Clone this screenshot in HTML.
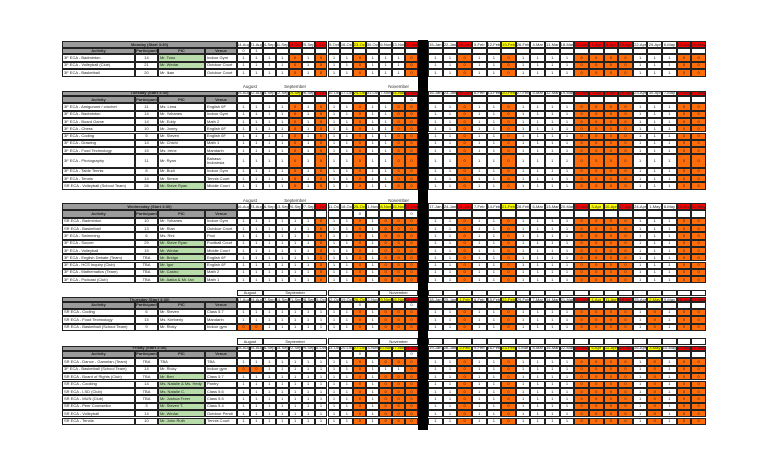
<!DOCTYPE html>
<html><head><meta charset="utf-8">
<style>
html,body{margin:0;padding:0;background:#fff;}
#root{position:relative;width:768px;height:466px;overflow:hidden;font-family:"Liberation Sans",sans-serif;}
.c{position:absolute;box-sizing:border-box;border:1px solid #222;font-size:4px;line-height:1;display:flex;align-items:center;justify-content:center;overflow:hidden;white-space:nowrap;color:#222;}
.l{justify-content:flex-start;padding-left:1px;}
.m{position:absolute;font-size:4.5px;color:#333;text-align:center;}
</style></head><body>
<div id="root"></div>
<script>
const b1Dates=[["14-Aug","21-Aug","4-Sep","11-Sep","18-Sep","25-Sep","2-Oct","9-Oct","16-Oct","23-Oct","30-Oct","6-Nov","13-Nov","20-Nov"],["15-Aug","22-Aug","5-Sep","12-Sep","19-Sep","26-Sep","3-Oct","10-Oct","17-Oct","24-Oct","31-Oct","7-Nov","14-Nov","21-Nov"],["16-Aug","23-Aug","6-Sep","13-Sep","20-Sep","27-Sep","4-Oct","11-Oct","18-Oct","25-Oct","1-Nov","8-Nov","15-Nov","22-Nov"],["17-Aug","24-Aug","7-Sep","14-Sep","21-Sep","28-Sep","5-Oct","12-Oct","19-Oct","26-Oct","2-Nov","9-Nov","16-Nov","23-Nov"],["18-Aug","25-Aug","8-Sep","15-Sep","22-Sep","29-Sep","6-Oct","13-Oct","20-Oct","27-Oct","3-Nov","10-Nov","17-Nov","24-Nov"]];
const b2Dates=[["15-Jan","22-Jan","29-Jan","5-Feb","12-Feb","19-Feb","26-Feb","4-Mar","11-Mar","18-Mar","25-Mar","1-Apr","8-Apr","15-Apr","22-Apr","29-Apr","6-May","13-May","20-May"],["16-Jan","23-Jan","30-Jan","6-Feb","13-Feb","20-Feb","27-Feb","5-Mar","12-Mar","19-Mar","26-Mar","2-Apr","9-Apr","16-Apr","23-Apr","30-Apr","7-May","14-May","21-May"],["17-Jan","24-Jan","31-Jan","7-Feb","14-Feb","21-Feb","28-Feb","6-Mar","13-Mar","20-Mar","27-Mar","3-Apr","10-Apr","17-Apr","24-Apr","1-May","8-May","15-May","22-May"],["18-Jan","25-Jan","1-Feb","8-Feb","15-Feb","22-Feb","29-Feb","7-Mar","14-Mar","21-Mar","28-Mar","4-Apr","11-Apr","18-Apr","25-Apr","2-May","9-May","16-May","23-May"],["19-Jan","26-Jan","2-Feb","9-Feb","16-Feb","23-Feb","1-Mar","8-Mar","15-Mar","22-Mar","29-Mar","5-Apr","12-Apr","19-Apr","26-Apr","3-May","10-May","17-May","24-May"]];
const sections=[
{t:"Monday (Start 3:30)",mY:null,box:false,tY:41,tH:7.3,hH:5.7,rH:7.6,
 rows:[["3F ECA - Badminton","14","Mr. Tono","Indoor Gym",1],["3F ECA - Volleyball (Club)","21","Mr. Wedar","Outdoor Court",1],["3F ECA - Basketball","20","Mr. Ikan","Outdoor Court",0]],
 r1:[4,6,13],y1:[9],r2:[2,10,11,12,13,17,18],y2:[5],o1:[4,6,9,13],o2:[2,5,10,11,12,13,17,18],ev:{0:"0",1:"1"},ex:[]},
{t:"Tuesday (Start 3:30)",mY:84,box:false,tY:90.7,tH:5.3,hH:7.3,rH:7.3,
 rows:[["3F ECA - Amigurumi / crochet","11","Ms. Lima","English 6F",0],["3F ECA - Badminton","14","Mr. Yohanes","Indoor Gym",0],["3F ECA - Board Game","14","Mr. Eddy","Math 2",0],["3F ECA - Chess","10","Mr. Jonny","English 6F",0],["3F ECA - Coding","5","Mr. Steven","English 6F",0],["3F ECA - Drawing","14","Mr. Chichi","Math 1",0],["3F ECA - Food Technology","15","Ms. Irene","Mandarin",0],["3F ECA - Photography","11","Mr. Ryan","Bahasa Indonesia",0,13.3],["3F ECA - Table Tennis","8","Mr. Budi","Indoor Gym",0],["3F ECA - Tennis","14","Mr. Simon","Tennis Court",0],["SR ECA - Volleyball (School Team)","26","Mr. Steve Ryan","Middle Court",1]],
 r1:[6,13],y1:[4,9,12],r2:[2,10,11,12,13,17,18],y2:[5],o1:[4,6,9,12,13],o2:[2,5,10,11,12,13,17,18],ev:{13:"0"},ex:[]},
{t:"Wednesday (Start 3:30)",mY:198,box:false,tY:203,tH:7,hH:7.7,rH:7.3,
 rows:[["SR ECA - Badminton","10","Mr. Yohanes","Indoor Gym",0],["SR ECA - Basketball","13","Mr. Rian","Outdoor Court",0],["3F ECA - Swimming","6","Ms. Rini","Pool",0],["3F ECA - Soccer","29","Mr. Steve Ryan","Football Court",1],["3F ECA - Volleyball","15","Mr. Wedar","Middle Court",1],["3F ECA - English Debate (Team)","TBA","Mr. Bridge","English 6F",1],["3F ECA - HCS Inquiry (Club)","TBA","Mr. Igor","English 6F",1],["3F ECA - Mathematics (Team)","TBA","Mr. Castro","Math 2",1],["3F ECA - Podcast (Club)","TBA","Mr. Aatka & Mr. Ian","Math 1",1]],
 r1:[6,13],y1:[9,11,12],r2:[2,10,13,17,18],y2:[5,11,12],o1:[6,9,11,12,13],o2:[2,5,10,11,12,13,17,18],ev:{9:"0",13:"0"},ex:[]},
{t:"Thursday (Start 3:30)",mY:289.7,box:true,tY:297.3,tH:4.7,hH:6.7,rH:7.5,
 rows:[["SR ECA - Coding","6","Mr. Steven","Class 5.7",0],["SR ECA - Food Technology","15","Ms. Kimberly","Mandarin",0],["SR ECA - Basketball (School Team)","9","Mr. Ricky","Indoor gym",0]],
 r1:[13],y1:[9,11,12],r2:[10,13,17,18],y2:[2,5,11,12,15],o1:[9,11,12,13],o2:[2,5,10,11,12,13,15,17,18],ev:{9:"0",13:"0"},ex:[[2,0,"0"],[2,1,"0"]]},
{t:"Friday (Start 3:30)",mY:338.3,box:true,tY:345.7,tH:5,hH:7.6,rH:7.4,
 rows:[["SR ECA - Dance - Gamelan (Team)","TBA","TBA","TBA",0],["3F ECA - Basketball (School Team)","14","Mr. Ricky","Indoor gym",0],["SR ECA - Board of Rights (Club)","TBA","Mr. Ben","Class 5.7",1],["SR ECA - Cooking","14","Ms. Natalie & Ms. Hedy","Pantry",1],["SR ECA - LSD (Club)","TBA","Ms. Natalie C.","Class 5.6",1],["SR ECA - MUN (Club)","TBA","Mr. Joshua Freer","Class 5.5",1],["SR ECA - Peer Counsellor","3","Mr. Steven T.","Class 5.4",1],["SR ECA - Volleyball","14","Mr. Wedar","Outdoor Pendi",1],["SR ECA - Tennis","10","Mr. John Ruth","Tennis Court",1]],
 r1:[13],y1:[9,11,12],r2:[10,13,17,18],y2:[2,5,11,12,15],o1:[9,11,12,13],o2:[2,5,10,11,12,13,15,17,18],ev:{9:"0",13:"0"},ex:[[1,0,"0"],[1,1,"0"],[1,11,"1"],[1,12,"1"]]}
];
const root=document.getElementById('root');
function cell(x,y,w,h,bg,txt,name,cls){
 const d=document.createElement('div');
 d.className='c'+(cls?' '+cls:'');
 d.style.left=x+'px';d.style.top=y+'px';d.style.width=w+'px';d.style.height=h+'px';
 d.style.background=bg;d.textContent=txt||'';
 
 
 root.appendChild(d);return d;
}
const LX=[62,135,158,205,237], B1X=237, B1W=(418-237)/14, B2X=428, B2W=(706-428)/19;
const GRAY='#9b9b9b',OR='#ff6c0a',RED='#ff0000',YEL='#ffff00',GRN='#b9dcab';
// black separator
const bar=document.createElement('div');
bar.style.cssText='position:absolute;left:418px;top:40px;width:10px;height:390px;background:#000;';


root.appendChild(bar);
sections.forEach((s,si)=>{
 const hY=s.tY+s.tH, r0=hY+s.hH;
 if(s.mY!==null){
  const months=[["August",0,2],["September",2,5],["",7,4],["November",11,3]];
  months.forEach(m=>{
   if(s.box){cell(B1X+m[1]*B1W,s.mY,m[2]*B1W,6.6,'#fff',m[0],'month-label');}
   else if(m[0]){const d=document.createElement('div');d.className='m';d.style.left=(B1X+m[1]*B1W)+'px';d.style.width=(m[2]*B1W)+'px';d.style.top=(s.mY)+'px';d.textContent=m[0];
    
    
    root.appendChild(d);}
  });
  if(s.box){for(let j=0;j<19;j++)cell(B2X+j*B2W,s.mY,B2W,6.6,'#fff','','month-blank');}
 }
 cell(LX[0],s.tY,LX[4]-LX[0],s.tH,GRAY,s.t,'day-title').style.fontWeight='bold';
 ["Activity","Participant","PIC","Venue"].forEach((h,k)=>{const c=cell(LX[k],hY,LX[k+1]-LX[k],s.hH,GRAY,h,'column-header');c.style.fontWeight='bold';});
 b1Dates[si].forEach((d,j)=>{
  const bg=s.r1.includes(j)?RED:(s.y1.includes(j)?YEL:'#fff');
  cell(B1X+j*B1W,s.tY,B1W,s.tH,bg,d,'date-header');
  cell(B1X+j*B1W,hY,B1W,s.hH,'#fff',s.ev[j]||'','date-total');
 });
 b2Dates[si].forEach((d,j)=>{
  const bg=s.r2.includes(j)?RED:(s.y2.includes(j)?YEL:'#fff');
  cell(B2X+j*B2W,s.tY,B2W,s.tH,bg,d,'date-header');
  cell(B2X+j*B2W,hY,B2W,s.hH,'#fff','','date-total');
 });
 let y=r0;
 s.rows.forEach((r,ri)=>{
  const h=r[5]||s.rH;
  cell(LX[0],y,LX[1]-LX[0],h,'#fff',r[0],'activity-name','l');
  cell(LX[1],y,LX[2]-LX[1],h,'#fff',r[1],'participant-count');
  cell(LX[2],y,LX[3]-LX[2],h,r[4]?GRN:'#fff',r[2],'pic-name','l');
  const v=cell(LX[3],y,LX[4]-LX[3],h,'#fff',r[3],'venue','l');
  if(r[5]){v.style.whiteSpace='normal';}
  for(let j=0;j<14;j++){
   let val=s.o1.includes(j)?"0":"1";
   s.ex.forEach(e=>{if(e[0]===ri&&e[1]===j)val=e[2];});
   cell(B1X+j*B1W,y,B1W,h,val==="0"?OR:'#fff',val,'attendance-cell');
  }
  for(let j=0;j<19;j++){
   const val=s.o2.includes(j)?"0":"1";
   cell(B2X+j*B2W,y,B2W,h,val==="0"?OR:'#fff',val,'attendance-cell');
  }
  y+=h;
 });
});
</script>
</body></html>
